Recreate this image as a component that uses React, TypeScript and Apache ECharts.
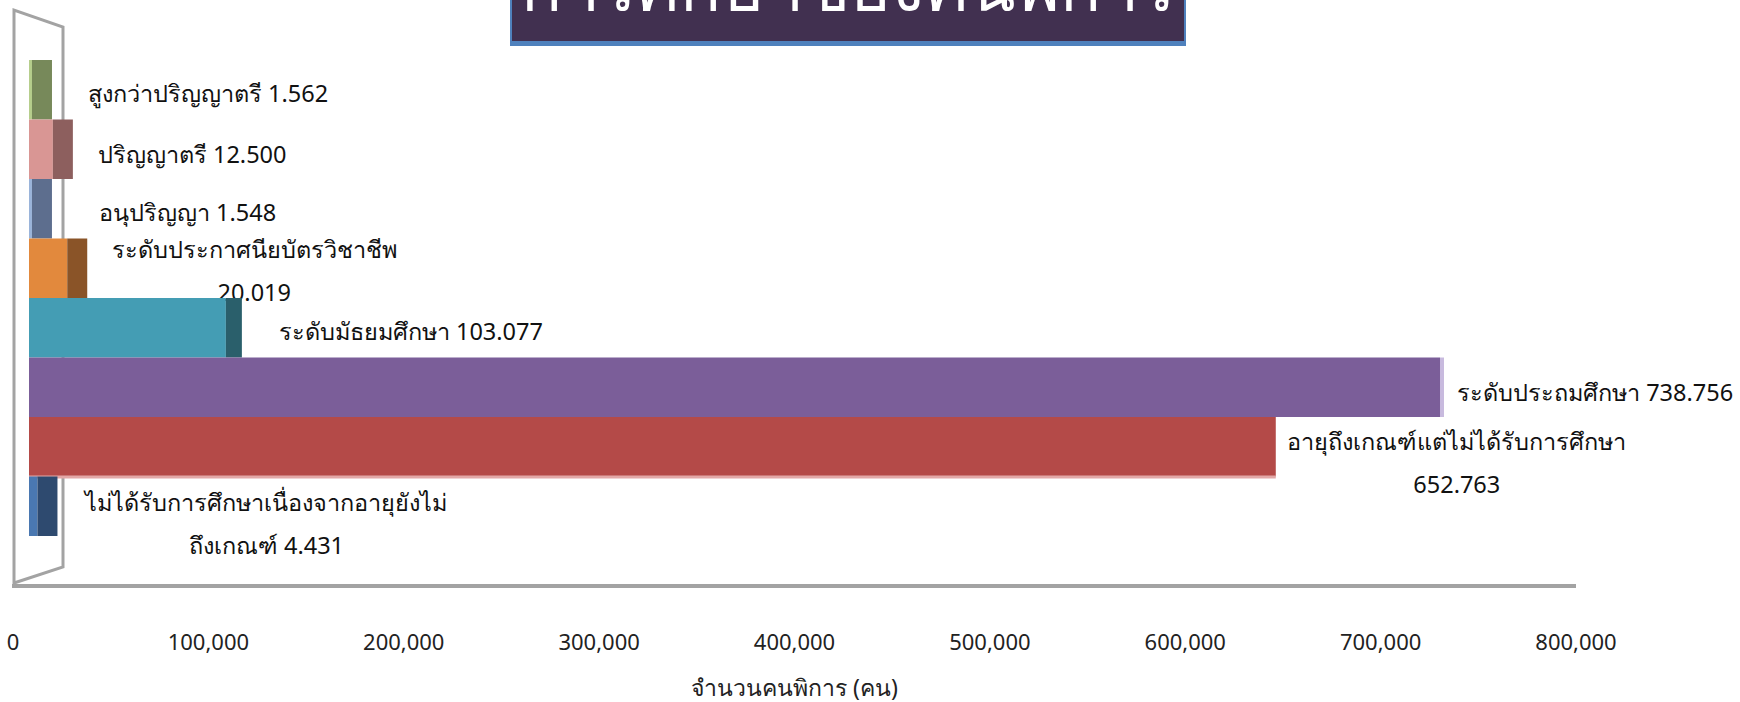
import { useEffect, useRef } from "react";
import * as echarts from "echarts";

// ---- data ----
const chartTitle = "การศึกษาของคนพิการ";
const axisTitle = "จำนวนคนพิการ (คน)";
const categories = [
  "สูงกว่าปริญญาตรี",
  "ปริญญาตรี",
  "อนุปริญญา",
  "ระดับประกาศนียบัตรวิชาชีพ",
  "ระดับมัธยมศึกษา",
  "ระดับประถมศึกษา",
  "อายุถึงเกณฑ์แต่ไม่ได้รับการศึกษา",
  "ไม่ได้รับการศึกษาเนื่องจากอายุยังไม่ถึงเกณฑ์",
];
const values = [1562, 12500, 1548, 20019, 103077, 738756, 652763, 4431];
const xMin = 0;
const xMax = 800000;
const xInterval = 100000;

// ---- styles ----
const frontColors = ["#b6ce8c", "#d99694", "#9ab4da", "#e2893d", "#449db4", "#7b5e99", "#b44a48", "#4a78b1"];
const sideColors = ["#77895a", "#8d5f5e", "#5d6e8e", "#8a5428", "#2a5f6b", "#c8bade", "#b44a48", "#2e4a6f"];
const sideWidths = [20, 20, 20, 20, 16, 4, 0, 20];
const bottomEdges = ["", "", "", "", "", "", "#e2a8a7", ""];
// label layout: offset from bar end (incl. side), alignment, break position in the name (-1: none, >= length: before value)
const labelLayout = [
  { dx: 36, dy: 3, align: "left", brk: -1 },
  { dx: 25, dy: 5, align: "left", brk: -1 },
  { dx: 47, dy: 3, align: "left", brk: -1 },
  { dx: 167, dy: 2, align: "center", brk: 99 },
  { dx: 37, dy: 3, align: "left", brk: -1 },
  { dx: 13, dy: 5, align: "left", brk: -1 },
  { dx: 181, dy: 16, align: "center", brk: 99 },
  { dx: 209, dy: 17, align: "center", brk: 36 },
];

const FONT = "'Noto Sans', 'DejaVu Sans', sans-serif";

function fmtDot(v: number) {
  return v.toLocaleString("en-US").replace(/,/g, ".");
}
function labelText(i: number) {
  const name = categories[i];
  const val = fmtDot(values[i]);
  const b = labelLayout[i].brk;
  if (b < 0) return name + " " + val;
  if (b >= name.length) return name + "\n" + val;
  return name.slice(0, b) + "\n" + name.slice(b) + " " + val;
}

export default function App() {
  const ref = useRef<HTMLDivElement>(null);
  useEffect(() => {
    document.body.style.margin = "0";
    const chart = echarts.init(ref.current!, undefined, { renderer: "svg" });
    const wallColor = "#a3a3a3";
    chart.setOption({
      animation: false,
      backgroundColor: "#ffffff",
      grid: [
        { left: 29, top: 60, width: 1528, height: 476 },
        { left: 13, top: 560, width: 1563, height: 60 },
      ],
      xAxis: [
        { gridIndex: 0, type: "value", min: xMin, max: xMax, interval: xInterval, show: false },
        {
          gridIndex: 1,
          type: "value",
          min: xMin,
          max: xMax,
          interval: xInterval,
          axisLine: { show: false },
          axisTick: { show: false },
          splitLine: { show: false },
          axisLabel: {
            margin: 10,
            fontSize: 22,
            color: "#222",
            fontFamily: FONT,
            formatter: (v: number) => v.toLocaleString("en-US"),
          },
          name: axisTitle,
          nameLocation: "middle",
          nameGap: 55,
          nameTextStyle: { fontSize: 23, color: "#222", fontFamily: FONT },
        },
      ],
      yAxis: [
        { gridIndex: 0, type: "category", data: categories, inverse: true, show: false },
        { gridIndex: 1, type: "value", show: false },
      ],
      graphic: [
        {
          type: "polyline",
          z: 0,
          shape: { points: [[14, 586], [14, 10], [63, 27], [63, 567], [14, 583]] },
          style: { stroke: wallColor, lineWidth: 3, fill: "none" },
        },
        {
          type: "line",
          z: 0,
          shape: { x1: 12, y1: 586, x2: 1576, y2: 586 },
          style: { stroke: wallColor, lineWidth: 4 },
        },
        {
          type: "rect",
          z: 100,
          shape: { x: 510, y: -2, width: 676, height: 48 },
          style: { fill: "#4f81bd" },
        },
        {
          type: "rect",
          z: 101,
          shape: { x: 512, y: -2, width: 672, height: 43 },
          style: { fill: "#413050" },
        },
        {
          type: "text",
          z: 102,
          x: 848,
          y: 18,
          style: {
            text: chartTitle,
            fill: "#ffffff",
            fontSize: 68,
            fontFamily: FONT,
            align: "center",
            verticalAlign: "bottom",
          },
        },
      ],
      series: [
        {
          type: "custom",
          xAxisIndex: 0,
          yAxisIndex: 0,
          z: 5,
          clip: false,
          data: values.map((v, i) => [v, i]),
          renderItem: (params: any, api: any) => {
            const i = params.dataIndex;
            const v = api.value(0);
            const c = api.value(1);
            const p0 = api.coord([0, c]);
            const p1 = api.coord([v, c]);
            const h = api.size([0, 1])[1];
            const top = p1[1] - h / 2;
            const sw = sideWidths[i];
            const children: any[] = [
              {
                type: "rect",
                shape: { x: p0[0], y: top, width: p1[0] - p0[0], height: h },
                style: { fill: frontColors[i] },
              },
            ];
            if (sw > 0) {
              children.push({
                type: "rect",
                shape: { x: p1[0], y: top, width: sw, height: h },
                style: { fill: sideColors[i] },
              });
            }
            if (bottomEdges[i]) {
              children.push({
                type: "rect",
                shape: { x: p0[0], y: top + h - 1, width: p1[0] - p0[0], height: 3 },
                style: { fill: bottomEdges[i] },
              });
            }
            const L = labelLayout[i];
            children.push({
              type: "text",
              x: p1[0] + sw + L.dx,
              y: p1[1] + L.dy,
              style: {
                text: labelText(i),
                fill: "#111",
                fontSize: 23.5,
                fontFamily: FONT,
                align: L.align,
                verticalAlign: "middle",
                lineHeight: 43,
              },
            });
            return { type: "group", children };
          },
        },
      ],
    });
    return () => chart.dispose();
  }, []);
  return <div ref={ref} style={{ width: 1740, height: 702 }} />;
}
